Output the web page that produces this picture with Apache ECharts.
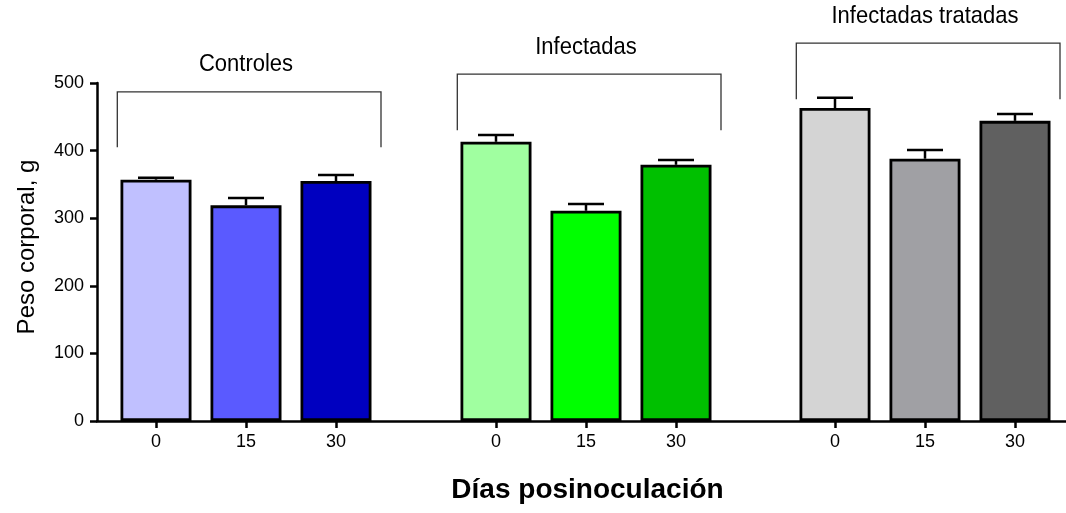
<!DOCTYPE html>
<html><head><meta charset="utf-8">
<script src="https://cdn.jsdelivr.net/npm/echarts@6/dist/echarts.min.js"></script>
<style>html,body{margin:0;padding:0;background:#fff}#c{width:1066px;height:513px}</style>
</head><body><div id="c"></div>
<script>
// ---- data ----
const groups = ['Controles', 'Infectadas', 'Infectadas tratadas'];
const days = ['0', '15', '30'];
const controles = [357, 319, 355];
const infectadas = [413, 311, 379];
const tratadas = [463, 388, 444];
const semControles = [3, 11, 9];
const semInfectadas = [10, 10, 7];
const semTratadas = [15, 13, 10];
const bracketTop = [487, 513, 559];
const bracketBottom = [405, 430, 476];
const yMin = 0, yMax = 500, yStep = 100;

// ---- styles ----
const palette = [
  ['#c0c0ff', '#5a5aff', '#0000c0'],
  ['#a0ffa0', '#00ff00', '#00c000'],
  ['#d4d4d4', '#a0a0a4', '#606060']
];
const FONT = '"Liberation Sans", Arial, sans-serif';

const means = [controles, infectadas, tratadas];
const sems = [semControles, semInfectadas, semTratadas];
const groupLeft = [111, 451, 790];

const grid = [{left: 97, right: 0, top: 83, bottom: 92}];
const xAxis = [{
  gridIndex: 0, type: 'value', min: 0, max: 1,
  axisLine: {show: true, lineStyle: {color: '#000', width: 2.5}},
  axisTick: {show: false}, axisLabel: {show: false}, splitLine: {show: false},
  name: 'Días posinoculación', nameLocation: 'middle', nameGap: 55,
  nameTextStyle: {fontFamily: FONT, fontWeight: 'bold', fontSize: 28, color: '#000', padding: [0, 0, 0, 12]}
}];
const yAxis = [{
  gridIndex: 0, type: 'value', min: yMin, max: yMax, interval: yStep,
  axisLine: {show: true, lineStyle: {color: '#000', width: 2.5}},
  axisTick: {show: true, length: 7, lineStyle: {color: '#000', width: 2.5}},
  axisLabel: {fontFamily: FONT, fontSize: 18, color: '#000', margin: 13},
  splitLine: {show: false},
  name: 'Peso corporal, g', nameLocation: 'middle', nameGap: 58,
  nameTextStyle: {fontFamily: FONT, fontSize: 24, color: '#000', padding: [0, 0, 0, 10]}
}];
const series = [];

groups.forEach((g, gi) => {
  const idx = gi + 1;
  grid.push({left: groupLeft[gi], width: 270, top: 83, bottom: 92});
  xAxis.push({
    gridIndex: idx, type: 'category', data: days,
    axisLine: {show: false},
    axisTick: {show: true, alignWithLabel: true, length: 7, lineStyle: {color: '#000', width: 2.5}},
    axisLabel: {fontFamily: FONT, fontSize: 18, color: '#000', margin: 12},
    splitLine: {show: false}
  });
  yAxis.push({gridIndex: idx, type: 'value', min: yMin, max: yMax, interval: yStep, show: false});

  series.push({
    type: 'custom', xAxisIndex: idx, yAxisIndex: idx, z: 1, clip: false,
    data: means[gi].map((v, k) => [k, v, v + sems[gi][k]]),
    encode: {x: 0, y: 2},
    renderItem: (params, api) => {
      const p0 = api.coord([api.value(0), api.value(1)]);
      const p1 = api.coord([api.value(0), api.value(2)]);
      const half = api.size([1, 0])[0] * 0.2;
      const st = {stroke: '#000', lineWidth: 2.5};
      return {type: 'group', children: [
        {type: 'line', shape: {x1: p0[0], y1: p0[1], x2: p1[0], y2: p1[1]}, style: st},
        {type: 'line', shape: {x1: p1[0] - half, y1: p1[1], x2: p1[0] + half, y2: p1[1]}, style: st}
      ]};
    }
  });

  series.push({
    type: 'bar', xAxisIndex: idx, yAxisIndex: idx, z: 2, barWidth: 71,
    itemStyle: {borderColor: '#000', borderWidth: 2.8},
    data: means[gi].map((v, k) => ({value: v, itemStyle: {color: palette[gi][k]}}))
  });

  series.push({
    type: 'custom', xAxisIndex: idx, yAxisIndex: idx, z: 3, clip: false,
    data: [[1, bracketTop[gi], bracketBottom[gi]]],
    encode: {x: 0, y: 1},
    renderItem: (params, api) => {
      const band = api.size([1, 0])[0];
      const top = api.value(1), bot = api.value(2);
      const xl = api.coord([0, top])[0] - 0.43 * band;
      const xr = api.coord([days.length - 1, top])[0] + 0.5 * band;
      const xm = api.coord([api.value(0), top])[0];
      const yt = api.coord([0, top])[1];
      const yb = api.coord([0, bot])[1];
      return {type: 'group', children: [
        {type: 'polyline', shape: {points: [[xl, yb], [xl, yt], [xr, yt], [xr, yb]]},
         style: {stroke: '#333', lineWidth: 1.3, fill: null}},
        {type: 'text', x: xm, y: yt - 15, scaleY: 1.1,
         style: {x: 0, y: 0, text: groups[gi], align: 'center', verticalAlign: 'bottom',
          fontFamily: FONT, fontSize: 22, fill: '#000'}}
      ]};
    }
  });
});

const chart = echarts.init(document.getElementById('c'), null, {renderer: 'canvas'});
chart.setOption({animation: false, backgroundColor: '#fff', grid, xAxis, yAxis, series});
</script>
</body></html>
